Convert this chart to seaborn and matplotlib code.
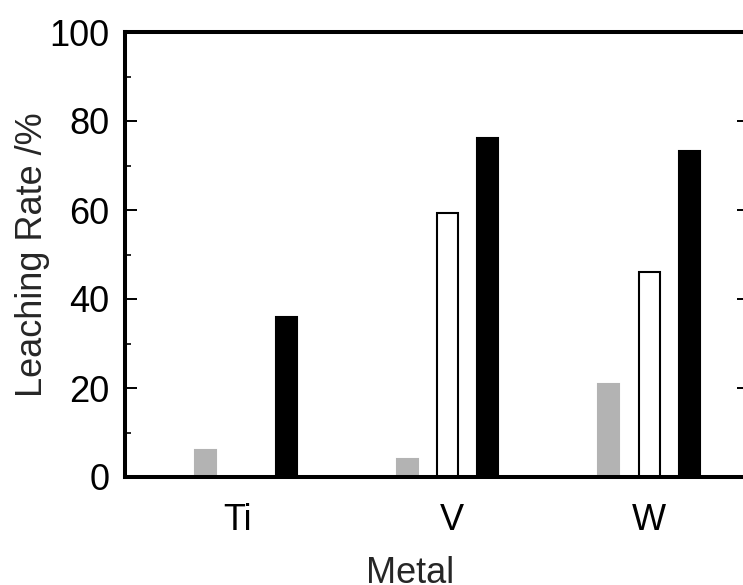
import numpy as np
import pandas as pd
import matplotlib
matplotlib.use("Agg")
import matplotlib.pyplot as plt
import matplotlib.transforms as mtransforms
import seaborn as sns
from matplotlib.ticker import MultipleLocator

metals = ["Ti", "V", "W"]
series = ["A", "B", "C"]
vals_a = [6.0, 4.0, 21.0]
vals_b = [0.0, 59.3, 46.0]
vals_c = [36.0, 76.2, 73.2]
colors = ["#b3b3b3", "#ffffff", "#000000"]
edge_colors = ["#b3b3b3", "#000000", "#000000"]

df = pd.DataFrame({
    "Metal": metals * 3,
    "Series": [s for s in series for _ in metals],
    "Rate": vals_a + vals_b + vals_c,
})

sns.set_style("white")
plt.rcParams["font.family"] = ["Liberation Sans", "DejaVu Sans"]

fig = plt.figure(figsize=(7.43, 5.85), dpi=100)
ax = fig.add_axes([125/743, 1 - 477/585, (749 - 125)/743, (477 - 32)/585])

sns.barplot(data=df, x="Metal", y="Rate", hue="Series", order=metals,
            hue_order=series, palette=colors, width=0.6, gap=0.48,
            linewidth=1.5, edgecolor="black", legend=False, ax=ax,
            errorbar=None)

for cont, ec in zip(ax.containers, edge_colors):
    for p in cont.patches:
        p.set_edgecolor(ec)
        p.set_linewidth(1.5)

ax.set_xlim(-0.6, 2.496)
ax.set_ylim(0, 100)
ax.yaxis.set_major_locator(MultipleLocator(20))
ax.yaxis.set_minor_locator(MultipleLocator(10))

for s in ["left", "bottom", "top", "right"]:
    ax.spines[s].set_visible(True)
    ax.spines[s].set_linewidth(2.9)
    ax.spines[s].set_color("black")

ax.tick_params(axis="y", which="major", direction="in", length=8.6, width=1.4,
               labelsize=26, pad=11, left=True, right=True, colors="black")
ax.tick_params(axis="y", which="minor", direction="in", length=4.3, width=1.4,
               left=True, right=False)
ax.tick_params(axis="x", length=0, labelsize=26, pad=19, colors="black")

# small horizontal nudges of the category labels as in the reference
offsets_px = [-8, 4, 0]
for lab, dx in zip(ax.get_xticklabels(), offsets_px):
    lab.set_transform(lab.get_transform() +
                      mtransforms.ScaledTranslation(dx / 100, 0, fig.dpi_scale_trans))

ax.set_xlabel("Metal", fontsize=26)
ax.set_ylabel("Leaching Rate /%", fontsize=26)
ax.xaxis.set_label_coords((410 - 125) / (749 - 125), -0.177)
ax.yaxis.set_label_coords(-(125 - 50) / (749 - 125), 0.5)

fig.savefig("out.png", dpi=100)
